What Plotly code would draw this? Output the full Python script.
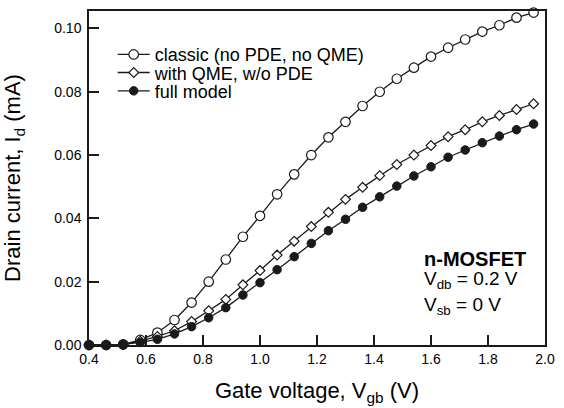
import plotly.graph_objects as go

vgb = [0.40, 0.46, 0.52, 0.58, 0.64, 0.70, 0.76, 0.82, 0.88, 0.94, 1.00, 1.06, 1.12, 1.18,
       1.24, 1.30, 1.36, 1.42, 1.48, 1.54, 1.60, 1.66, 1.72, 1.78, 1.84, 1.90, 1.96]

classic = [0.0, 0.0, 0.0002, 0.0016, 0.0039, 0.0079, 0.0134, 0.0200, 0.0270, 0.0342, 0.0408,
           0.0476, 0.0539, 0.0600, 0.0656, 0.0705, 0.0755, 0.0800, 0.0841, 0.0876, 0.0911,
           0.0939, 0.0965, 0.0990, 0.1010, 0.1034, 0.1050]

with_qme = [0.0, 0.0, 0.0001, 0.0012, 0.0027, 0.0045, 0.0074, 0.0108, 0.0144, 0.0190, 0.0235,
            0.0284, 0.0328, 0.0374, 0.0419, 0.0460, 0.0498, 0.0535, 0.0570, 0.0600, 0.0630,
            0.0658, 0.0680, 0.0705, 0.0725, 0.0744, 0.0762]

full_model = [0.0, 0.0, 0.0002, 0.0008, 0.0018, 0.0035, 0.0058, 0.0086, 0.0118, 0.0158, 0.0197,
              0.0238, 0.0279, 0.0321, 0.0361, 0.0397, 0.0435, 0.0468, 0.0502, 0.0534, 0.0563,
              0.0593, 0.0616, 0.0639, 0.0660, 0.0680, 0.0698]

names = ["classic (no PDE, no QME)", "with QME, w/o PDE", "full model"]

x_ticks = [0.4, 0.6, 0.8, 1.0, 1.2, 1.4, 1.6, 1.8, 2.0]
x_ticklabels = ["0.4", "0.6", "0.8", "1.0", "1.2", "1.4", "1.6", "1.8", "2.0"]
y_ticks = [0.0, 0.02, 0.04, 0.06, 0.08, 0.10]
y_ticklabels = ["0.00", "0.02", "0.04", "0.06", "0.08", "0.10"]

FONT = "Liberation Sans, Arial, Helvetica, sans-serif"
INK = "#1a1a1a"

markers = [
    dict(symbol="circle", size=9.5, color="white", line=dict(color=INK, width=1.2)),
    dict(symbol="diamond", size=7.5, color="white", line=dict(color=INK, width=1.2)),
    dict(symbol="circle", size=8.5, color=INK, line=dict(color=INK, width=1)),
]
legend_ids = ["legend", "legend2", "legend3"]
legend_rows = [0.869, 0.815, 0.760]

fig = go.Figure()
for name, ys, mk, lid in zip(names, [classic, with_qme, full_model], markers, legend_ids):
    fig.add_trace(go.Scatter(
        x=vgb, y=ys, mode="lines+markers", name=name,
        line=dict(color=INK, width=1.3),
        marker=mk, cliponaxis=False, legend=lid,
    ))

legend_common = dict(xanchor="left", yanchor="middle",
                     font=dict(size=18, family=FONT, color="black"),
                     bgcolor="rgba(0,0,0,0)", borderwidth=0, itemwidth=32)
layout_legends = {}
for lid, ly in zip(legend_ids, legend_rows):
    layout_legends[lid] = dict(legend_common, x=0.052, y=ly)

fig.update_layout(
    width=564, height=408,
    margin=dict(l=88, r=11, t=9, b=62),
    paper_bgcolor="white", plot_bgcolor="white",
    font=dict(family=FONT, color="black", size=14),
    showlegend=True,
    **layout_legends,
)

fig.update_xaxes(
    range=[0.4, 2.0], tickvals=x_ticks, ticktext=x_ticklabels,
    ticks="inside", ticklen=10, tickwidth=1.5, tickcolor=INK,
    showline=True, linewidth=1.5, linecolor=INK, mirror=True,
    showgrid=False, zeroline=False,
    tickfont=dict(size=14, family=FONT, color="black"),
    title=dict(text="Gate voltage, V<sub>gb</sub> (V)", font=dict(size=22, family=FONT, color="black"), standoff=17),
)
fig.update_yaxes(
    range=[0, 0.1055], tickvals=y_ticks, ticktext=y_ticklabels,
    ticks="inside", ticklen=10, tickwidth=1.5, tickcolor=INK,
    showline=True, linewidth=1.5, linecolor=INK, mirror=True,
    showgrid=False, zeroline=False, ticklabelstandoff=3,
    tickfont=dict(size=14, family=FONT, color="black"),
    title=dict(text="Drain current, I<sub>d</sub> (mA)", font=dict(size=22, family=FONT, color="black"), standoff=30),
)

fig.add_annotation(x=1.57, y=0.0271, xref="x", yref="y", text="<b>n-MOSFET</b>",
                   showarrow=False, xanchor="left", yanchor="middle",
                   font=dict(family=FONT, size=20, color="black"))
fig.add_annotation(x=1.57, y=0.0206, xref="x", yref="y", text="V<sub>db</sub> = 0.2 V",
                   showarrow=False, xanchor="left", yanchor="middle",
                   font=dict(family=FONT, size=19, color="black"))
fig.add_annotation(x=1.57, y=0.0124, xref="x", yref="y", text="V<sub>sb</sub> = 0 V",
                   showarrow=False, xanchor="left", yanchor="middle",
                   font=dict(family=FONT, size=19, color="black"))

fig.write_html("out.html", config={"displayModeBar": False},
               post_script="document.body.style.margin='0';document.body.style.padding='0';")
